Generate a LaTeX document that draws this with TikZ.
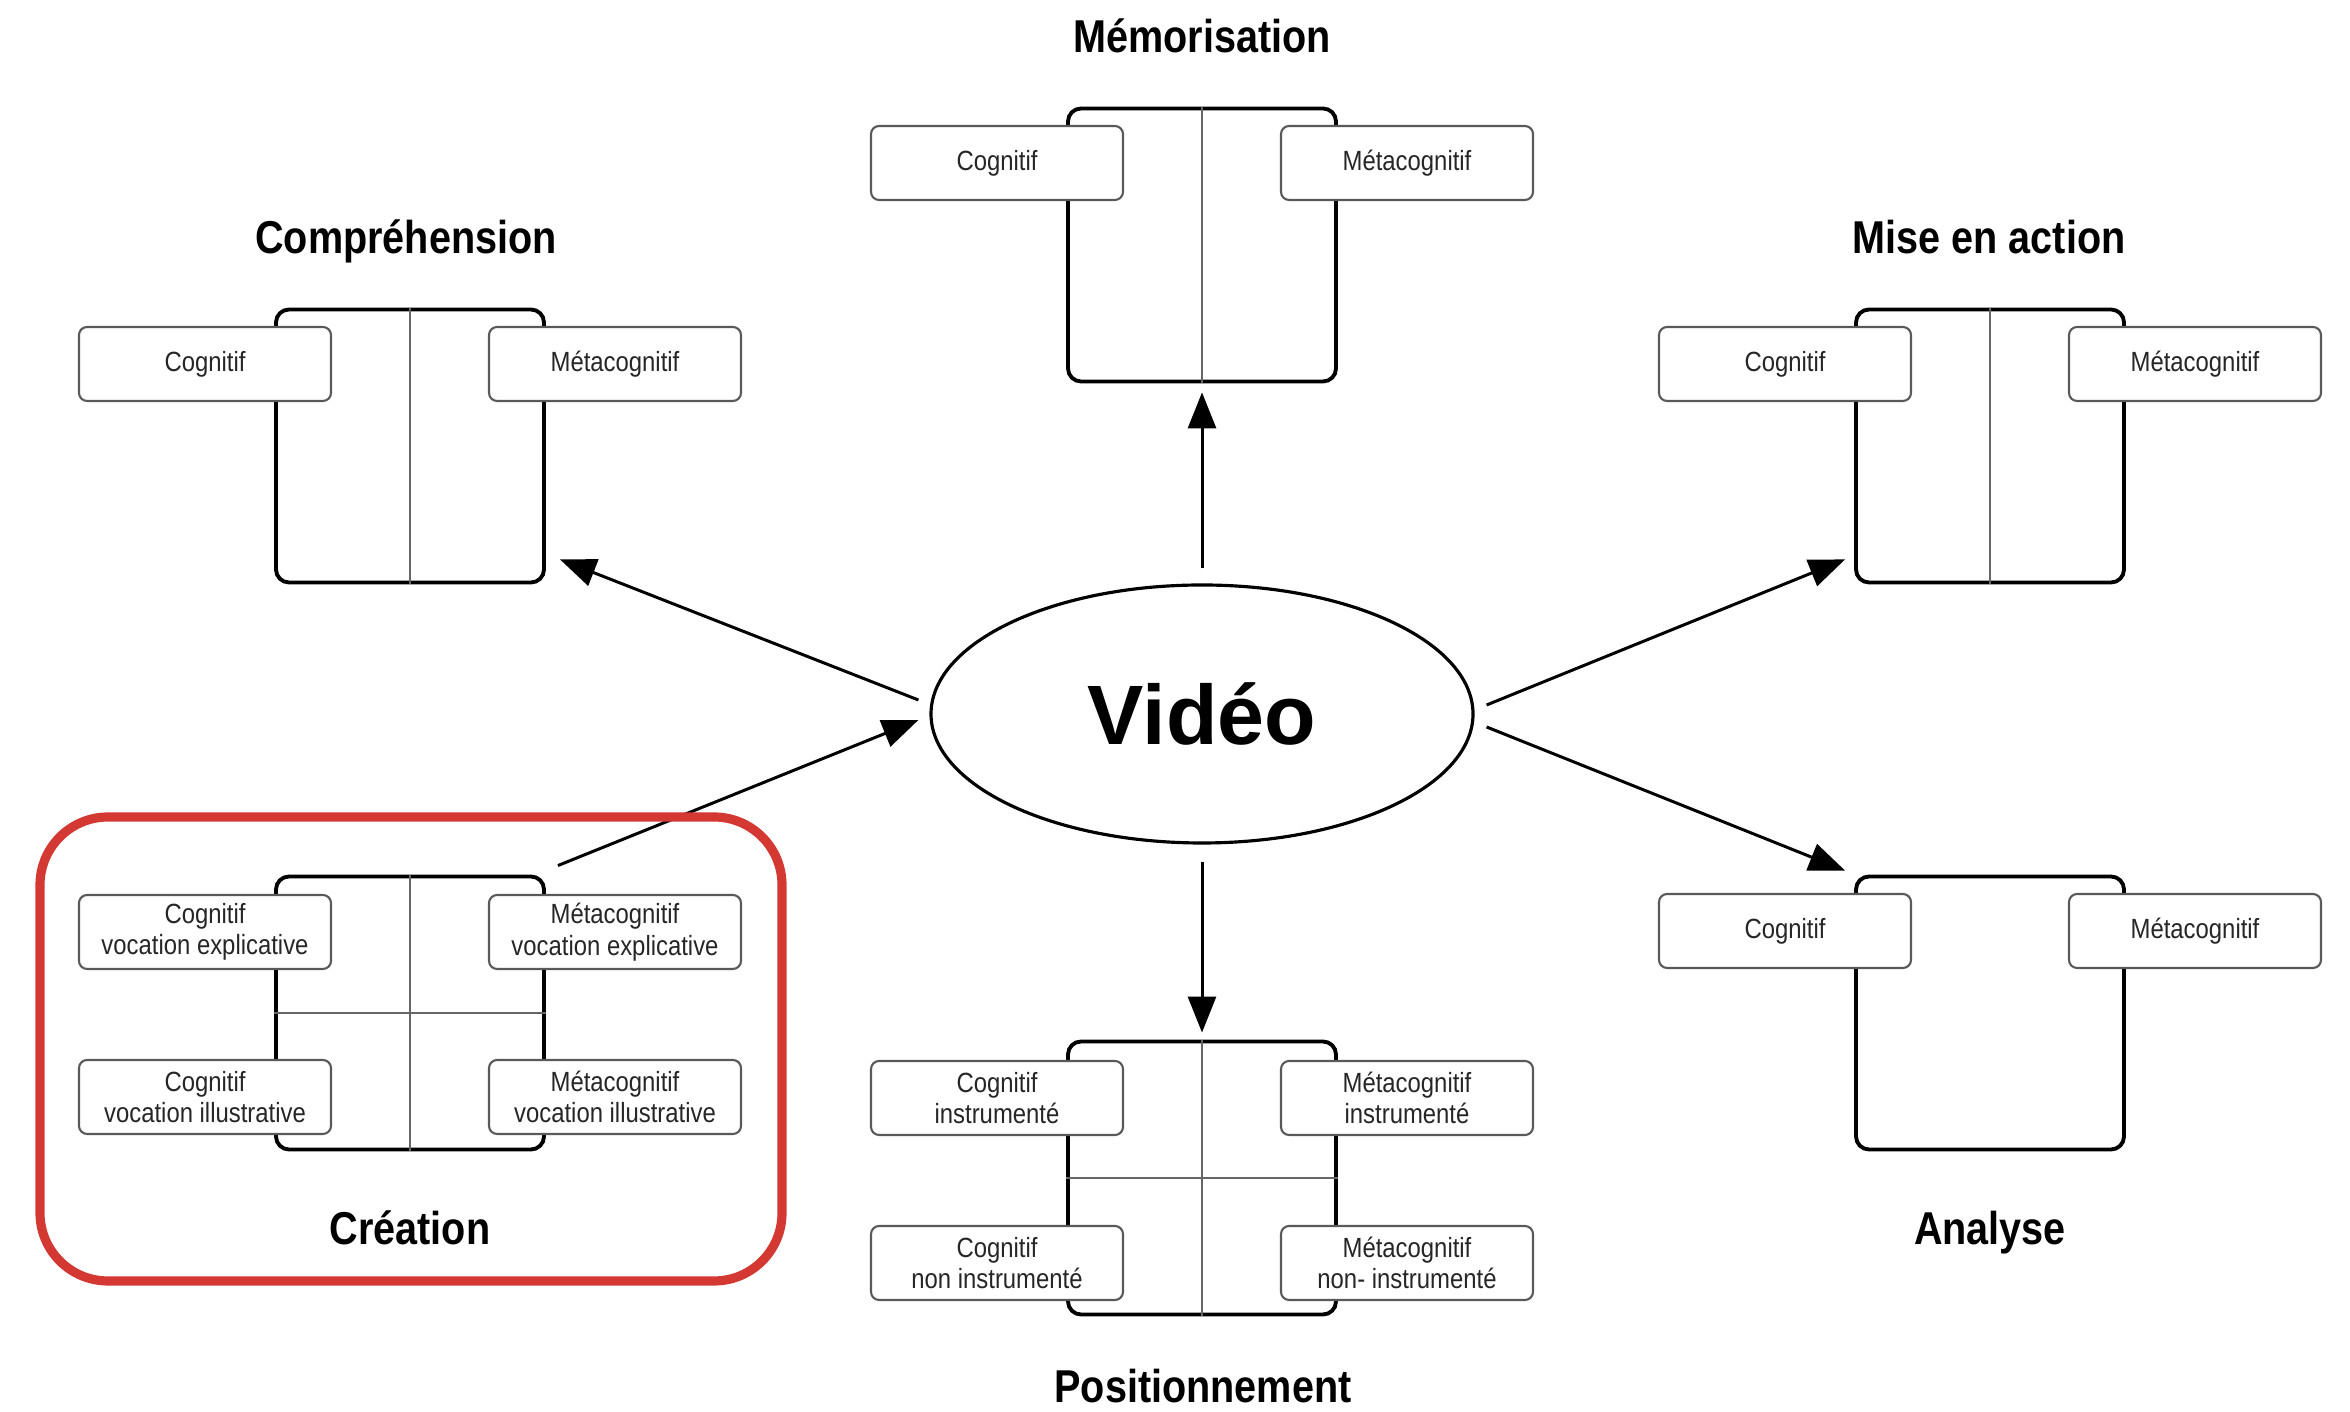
\documentclass[tikz,border=0pt]{standalone}
\usepackage{fontspec}
\setmainfont{Liberation Sans}
\newfontfamily\narrowfont{Liberation Sans}[FakeStretch=0.86]
\usetikzlibrary{shapes,arrows.meta,positioning,calc}
\definecolor{hlred}{RGB}{211,56,51}

\begin{document}
\begin{tikzpicture}[
    stage/.style={draw=black, line width=1.1pt, rounded corners=3.7pt, minimum width=2.68cm, minimum height=2.73cm, inner sep=0pt},
    divider/.style={black!60, line width=0.5pt},
    catbox/.style={draw=black!65, fill=white, line width=0.6pt, rounded corners=2.3pt, minimum width=2.52cm, minimum height=0.74cm, inner sep=0pt, font=\narrowfont\fontsize{7.9}{9}\selectfont, text=black!85, align=center},
    heading/.style={font=\narrowfont\bfseries\fontsize{13.1}{15}\selectfont, anchor=base},
    link/.style={line width=0.85pt, -{Triangle[length=3.6mm, width=2.8mm]}}
]

\useasboundingbox (0,0) rectangle (23.5,14.12);

% Central node
\node[ellipse, draw, line width=0.9pt, minimum width=5.42cm, minimum height=2.58cm, inner sep=0pt, font=\bfseries\fontsize{24}{28}\selectfont] (video) at (12.02,6.98) {Vidéo};

% Frames
\foreach \name/\x/\y in {memo/12.02/11.67, compr/4.10/9.66, action/19.90/9.66, analyse/19.90/3.99, creation/4.10/3.99, position/12.02/2.34}
    \node[stage] (\name) at (\x,\y) {};

% Dividers
\foreach \name in {memo, compr, action, creation, position}
    \draw[divider] (\name.north) -- (\name.south);
\foreach \name in {creation, position}
    \draw[divider] (\name.west) -- (\name.east);

% One-row frames
\foreach \name in {memo, compr, action, analyse} {
    \node[catbox] (\name-cog) at ($(\name)+(-2.05,0.82)$) {Cognitif};
    \node[catbox] (\name-meta) at ($(\name)+(2.05,0.82)$) {Métacognitif};
}

% Creation
\node[catbox] (creation-cog-exp) at ($(creation)+(-2.05,0.81)$) {Cognitif\\vocation explicative};
\node[catbox] (creation-meta-exp) at ($(creation)+(2.05,0.81)$) {Métacognitif\\vocation explicative};
\node[catbox] (creation-cog-ill) at ($(creation)+(-2.05,-0.84)$) {Cognitif\\vocation illustrative};
\node[catbox] (creation-meta-ill) at ($(creation)+(2.05,-0.84)$) {Métacognitif\\vocation illustrative};

% Positioning
\node[catbox] (position-cog-ins) at ($(position)+(-2.05,0.80)$) {Cognitif\\instrumenté};
\node[catbox] (position-meta-ins) at ($(position)+(2.05,0.80)$) {Métacognitif\\instrumenté};
\node[catbox] (position-cog-non) at ($(position)+(-2.05,-0.85)$) {Cognitif\\non instrumenté};
\node[catbox] (position-meta-non) at ($(position)+(2.05,-0.85)$) {Métacognitif\\non- instrumenté};

% Titles
\node[heading] (memo-title) at (12.02,13.59) {Mémorisation};
\node[heading] (compr-title) at (4.06,11.58) {Compréhension};
\node[heading] (action-title) at (19.89,11.58) {Mise en action};
\node[heading] (creation-title) at (4.10,1.67) {Création};
\node[heading] (analyse-title) at (19.90,1.67) {Analyse};
\node[heading] (position-title) at (12.03,0.09) {Positionnement};

% Arrows
\draw[link] ([yshift=1.5mm]video.north) -- ([yshift=-0.9mm]memo.south);
\draw[link] ($(video.west)+(-0.11,0.14)$) -- ($(compr.south east)+(0.14,0.25)$);
\draw[link] ($(creation.north east)+(0.12,0.09)$) -- ($(video.west)+(-0.11,-0.06)$);
\draw[link] ($(video.east)+(0.12,0.09)$) -- ($(action.south west)+(-0.09,0.25)$);
\draw[link] ($(video.east)+(0.12,-0.13)$) -- ($(analyse.north west)+(-0.09,0.04)$);
\draw[link] ([yshift=-1.7mm]video.south) -- ([yshift=0.7mm]position.north);

% Highlight
\node[draw=hlred, line width=2.6pt, rounded corners=0.68cm, minimum width=7.42cm, minimum height=4.64cm, inner sep=0pt] (highlight) at (4.11,3.63) {};

\end{tikzpicture}
\end{document}
